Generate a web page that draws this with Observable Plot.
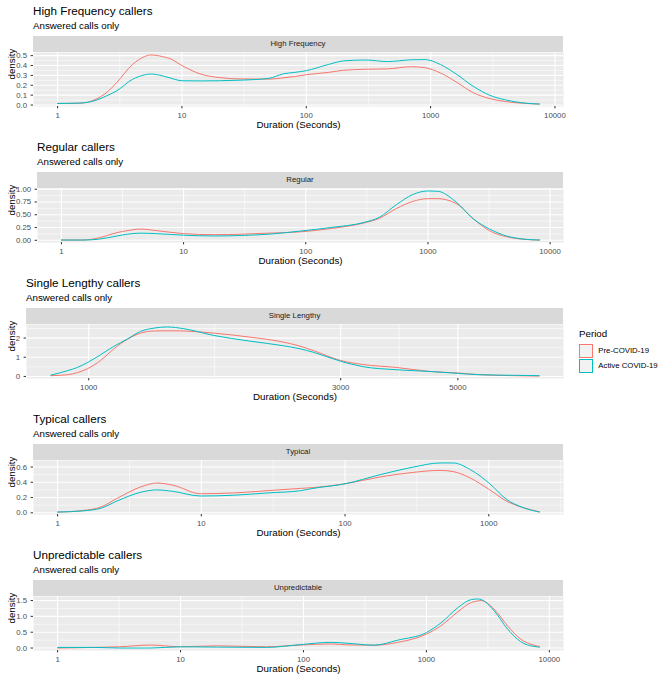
<!DOCTYPE html>
<html><head><meta charset="utf-8">
<script src="https://cdn.jsdelivr.net/npm/d3@7"></script>
<script src="https://cdn.jsdelivr.net/npm/@observablehq/plot@0.6"></script>
<style>
body{margin:0;background:#fff;}
#root{position:relative;width:668px;height:680px;overflow:hidden;font-family:"Liberation Sans",Arial,sans-serif;}
.t{position:absolute;white-space:nowrap;line-height:1;}
svg{overflow:visible;}
</style></head><body><div id="root"></div>
<script>
// ---------- DATA ----------
const periods = ["Pre-COVID-19", "Active COVID-19"];
const periodColors = ["#F8766D", "#00BFC4"];

const hfDuration = [1, 1.5, 2, 2.5, 3, 4, 5, 5.6, 7, 8, 10, 14, 20, 30, 50, 65, 80, 100, 150, 200, 300, 450, 700, 900, 1200, 1600, 2200, 3000, 4000, 5500, 7500];
const hfPre      = [0.016, 0.018, 0.055, 0.13, 0.23, 0.41, 0.49, 0.507, 0.49, 0.47, 0.40, 0.315, 0.278, 0.264, 0.262, 0.275, 0.288, 0.307, 0.33, 0.352, 0.362, 0.366, 0.388, 0.378, 0.325, 0.235, 0.125, 0.065, 0.035, 0.018, 0.01];
const hfActive   = [0.016, 0.02, 0.045, 0.095, 0.145, 0.26, 0.305, 0.314, 0.295, 0.275, 0.246, 0.244, 0.246, 0.252, 0.27, 0.315, 0.33, 0.348, 0.41, 0.447, 0.456, 0.44, 0.458, 0.46, 0.41, 0.315, 0.19, 0.098, 0.052, 0.022, 0.01];

const regDuration = [1, 1.5, 2, 2.85, 3.5, 4.4, 6, 10, 18, 30, 50, 90, 160, 300, 400, 550, 750, 1000, 1200, 1700, 2350, 3200, 4400, 6000, 8200];
const regPre      = [0.005, 0.005, 0.045, 0.15, 0.19, 0.22, 0.19, 0.13, 0.11, 0.12, 0.14, 0.165, 0.23, 0.34, 0.43, 0.62, 0.76, 0.815, 0.815, 0.72, 0.42, 0.185, 0.07, 0.02, 0.005];
const regActive   = [0.005, 0.005, 0.02, 0.085, 0.12, 0.14, 0.13, 0.10, 0.085, 0.095, 0.12, 0.18, 0.25, 0.35, 0.45, 0.695, 0.895, 0.966, 0.96, 0.75, 0.42, 0.22, 0.085, 0.025, 0.005];

const slDuration = [848, 912, 952, 994, 1053, 1116, 1183, 1254, 1330, 1408, 1513, 1723, 2020, 2336, 2512, 2662, 3000, 3305, 3820, 4420, 5000, 5490, 6340, 7125];
const slPre      = [0.04, 0.09, 0.2, 0.4, 0.83, 1.44, 1.93, 2.26, 2.37, 2.38, 2.37, 2.26, 2.05, 1.79, 1.58, 1.35, 0.83, 0.62, 0.47, 0.26, 0.18, 0.09, 0.04, 0.02];
const slActive   = [0.07, 0.3, 0.47, 0.72, 1.13, 1.57, 1.95, 2.35, 2.52, 2.58, 2.49, 2.14, 1.84, 1.6, 1.44, 1.26, 0.79, 0.51, 0.35, 0.26, 0.16, 0.09, 0.06, 0.04];

const tyDuration = [1, 1.5, 2, 2.6, 3.8, 4.9, 6.4, 9.85, 16.8, 28.7, 49, 60, 100, 176, 300, 458, 565, 745, 1017, 1320, 1740, 2250];
const tyPre      = [0.01, 0.03, 0.076, 0.19, 0.34, 0.39, 0.36, 0.25, 0.26, 0.29, 0.32, 0.33, 0.38, 0.47, 0.53, 0.556, 0.54, 0.455, 0.3, 0.156, 0.067, 0.013];
const tyActive   = [0.01, 0.025, 0.06, 0.156, 0.27, 0.30, 0.28, 0.22, 0.23, 0.26, 0.29, 0.32, 0.38, 0.5, 0.6, 0.653, 0.653, 0.565, 0.38, 0.18, 0.067, 0.01];

const unDuration = [1, 2, 3.2, 5.7, 10, 20, 50, 95, 167, 230, 375, 585, 1000, 1310, 1810, 2320, 2640, 2790, 3550, 4570, 5850, 7520, 8300];
const unPre      = [0.0, 0.02, 0.04, 0.095, 0.04, 0.07, 0.04, 0.095, 0.13, 0.1, 0.09, 0.18, 0.44, 0.7, 1.15, 1.44, 1.49, 1.5, 1.23, 0.7, 0.28, 0.09, 0.05];
const unActive   = [0.02, 0.02, 0.0, 0.0, 0.04, 0.03, 0.02, 0.11, 0.18, 0.15, 0.09, 0.25, 0.49, 0.79, 1.28, 1.53, 1.55, 1.53, 1.18, 0.6, 0.2, 0.05, 0.03];

const titles    = ["High Frequency callers", "Regular callers", "Single Lengthy callers", "Typical callers", "Unpredictable callers"];
const subtitle  = "Answered calls only";
const strips    = ["High Frequency", "Regular", "Single Lengthy", "Typical", "Unpredictable"];
const xTickSets = [[1, 10, 100, 1000, 10000], [1, 10, 100, 1000, 10000], [1000, 3000, 5000], [1, 10, 100, 1000], [1, 10, 100, 1000, 10000]];
const yTickSets = [[0, 0.1, 0.2, 0.3, 0.4, 0.5], [0, 0.25, 0.5, 0.75, 1.0], [0, 1, 2], [0, 0.2, 0.4, 0.6], [0, 0.5, 1.0, 1.5]];
const yFormats  = [".1f", ".2f", "d", ".1f", ".1f"];
const xLabel = "Duration (Seconds)";
const yLabel = "density";
const legendTitle = "Period";

// ---------- LAYOUT ----------
const series = [
  [hfDuration, hfPre, hfActive],
  [regDuration, regPre, regActive],
  [slDuration, slPre, slActive],
  [tyDuration, tyPre, tyActive],
  [unDuration, unPre, unActive]
];
const panelLefts = [33, 37, 26, 33, 33];
const stripTops = [36, 172, 307.7, 444, 580];
const panelRight = 563;
const stripH = 16, panelH = 54;
const FONT = '"Liberation Sans", Arial, sans-serif';

const root = document.getElementById("root");
function addText(txt, left, baseline, fs, color, extra = {}) {
  const d = document.createElement("div");
  d.className = "t";
  d.textContent = txt;
  d.style.left = left + "px";
  d.style.top = (baseline - 0.8465 * fs) + "px";
  d.style.fontSize = fs + "px";
  d.style.color = color;
  Object.assign(d.style, extra);
  root.appendChild(d);
  return d;
}
function minorBreaks(b, dom) {
  b = b.slice();
  const bd = b[1] - b[0];
  if (dom[0] < b[0]) b.unshift(b[0] - bd);
  if (dom[1] > b[b.length - 1]) b.push(b[b.length - 1] + bd);
  const m = [];
  for (let i = 0; i < b.length - 1; i++) m.push((b[i] + b[i + 1]) / 2);
  return m.filter(v => v > dom[0] && v < dom[1]);
}

series.forEach(([dur, pre, act], i) => {
  const left = panelLefts[i];
  const stripTop = stripTops[i];
  const panelTop = stripTop + stripH;

  addText(titles[i], left, stripTop - 21, 11.7, "#000");
  addText(subtitle, left, stripTop - 6.5, 9.75, "#000");

  const s = document.createElement("div");
  s.className = "t";
  Object.assign(s.style, {left: left + "px", top: stripTop + "px", width: (panelRight - left) + "px", height: stripH + "px",
    lineHeight: stripH + "px", background: "#D9D9D9", color: "#1A1A1A", fontSize: "7.8px", textAlign: "center"});
  s.textContent = strips[i];
  root.appendChild(s);

  const rows = [];
  dur.forEach((d, j) => { rows.push({d, v: pre[j], p: periods[0]}); });
  dur.forEach((d, j) => { rows.push({d, v: act[j], p: periods[1]}); });

  // x domain (log, 5% expansion in log space)
  const lmin = Math.log10(d3.min(dur)), lmax = Math.log10(d3.max(dur));
  const lpad = 0.05 * (lmax - lmin);
  const ldom = [lmin - lpad, lmax + lpad];
  const xDomain = ldom.map(v => Math.pow(10, v));
  // y domain (5% expansion)
  const allV = pre.concat(act);
  const ymin = d3.min(allV), ymax = d3.max(allV);
  const ypad = 0.05 * (ymax - ymin);
  const yDomain = [ymin - ypad, ymax + ypad];

  const xt = xTickSets[i], yt = yTickSets[i];
  const xMinor = minorBreaks(xt.map(Math.log10), ldom).map(v => Math.pow(10, v));
  const yMinor = minorBreaks(yt, yDomain);

  const mt = 8, mb = 30;
  const chart = Plot.plot({
    width: 668, height: mt + panelH + mb,
    marginLeft: left, marginRight: 668 - panelRight, marginTop: mt, marginBottom: mb,
    style: {fontFamily: FONT, background: "transparent", overflow: "visible"},
    x: {type: "log", domain: xDomain},
    y: {domain: yDomain},
    color: {domain: periods, range: periodColors},
    marks: [
      Plot.frame({fill: "#EBEBEB", stroke: "none"}),
      Plot.gridX(xMinor, {stroke: "#FFFFFF", strokeOpacity: 1, strokeWidth: 0.55}),
      Plot.gridY(yMinor, {stroke: "#FFFFFF", strokeOpacity: 1, strokeWidth: 0.55}),
      Plot.gridX(xt, {stroke: "#FFFFFF", strokeOpacity: 1, strokeWidth: 1.1}),
      Plot.gridY(yt, {stroke: "#FFFFFF", strokeOpacity: 1, strokeWidth: 1.1}),
      Plot.line(rows, {x: "d", y: "v", z: "p", stroke: "p", strokeWidth: 1, curve: "monotone-x"}),
      Plot.axisX(xt, {tickSize: 2.4, tickPadding: 3.2, fontSize: 7.8, color: "#4D4D4D", stroke: "#333333",
        tickFormat: d => String(d), label: null}),
      Plot.axisY(yt, {tickSize: 2.4, tickPadding: 4, fontSize: 7.8, color: "#4D4D4D", stroke: "#333333",
        tickFormat: d3.format(yFormats[i]), label: null}),
      Plot.text([xLabel], {text: d => d, frameAnchor: "bottom", dy: 21, fontSize: 9.75, fill: "#000"}),
      Plot.text([yLabel], {text: d => d, frameAnchor: "left", rotate: -90, dx: 11 - left, fontSize: 9.75, fill: "#000"})
    ]
  });
  chart.style.position = "absolute";
  chart.style.left = "0px";
  chart.style.top = (panelTop - mt) + "px";
  root.appendChild(chart);
});

// ---------- LEGEND ----------
addText(legendTitle, 579, 337.7, 9.75, "#000");
const keyTops = [344.3, 359.3];
periods.forEach((p, k) => {
  const key = document.createElement("div");
  Object.assign(key.style, {position: "absolute", left: "579px", top: keyTops[k] + "px", width: "14px", height: "14px",
    boxSizing: "border-box", background: "#F2F2F2", border: "1px solid " + periodColors[k]});
  root.appendChild(key);
  addText(p, 598.3, keyTops[k] + 7 + 2.8, 7.8, "#000");
});
</script>
</body></html>
